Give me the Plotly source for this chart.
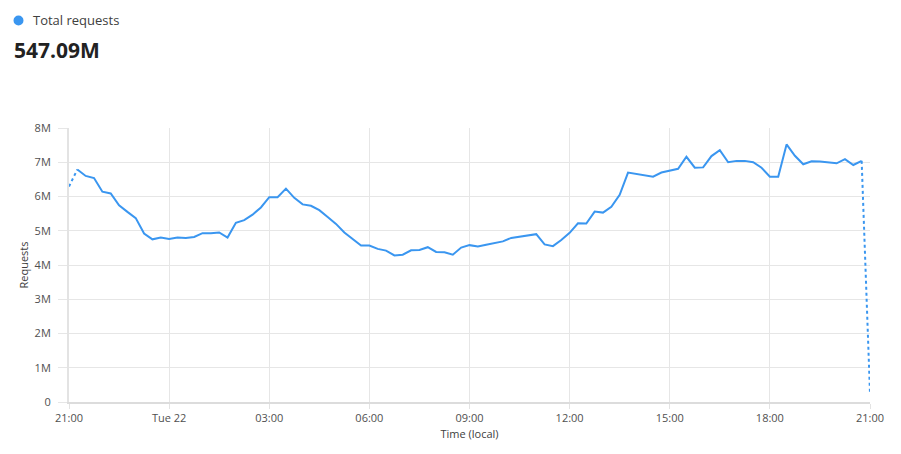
import plotly.graph_objects as go
import pandas as pd

start = "2023-08-21 21:00"
values_m = [6.29, 6.79, 6.60, 6.54, 6.14, 6.09, 5.74, 5.55, 5.37, 4.92,
            4.75, 4.80, 4.76, 4.80, 4.79, 4.82, 4.93, 4.93, 4.95, 4.80,
            5.23, 5.31, 5.47, 5.68, 5.98, 5.98, 6.23, 5.96, 5.77, 5.73,
            5.60, 5.40, 5.20, 4.95, 4.75, 4.57, 4.57, 4.47, 4.42, 4.28,
            4.30, 4.43, 4.44, 4.52, 4.38, 4.37, 4.30, 4.51, 4.58, 4.54,
            4.59, 4.63, 4.69, 4.79, 4.82, 4.86, 4.90, 4.60, 4.55, 4.73,
            4.94, 5.22, 5.21, 5.56, 5.53, 5.70, 6.05, 6.70, 6.66, 6.62,
            6.58, 6.70, 6.76, 6.81, 7.16, 6.84, 6.85, 7.18, 7.35, 7.00,
            7.04, 7.04, 7.00, 6.84, 6.58, 6.58, 7.52, 7.19, 6.94, 7.03,
            7.02, 7.00, 6.97, 7.09, 6.92, 7.04, 0.25]
times = pd.date_range(start, periods=len(values_m), freq="15min")
values = [v * 1e6 for v in values_m]

x_tick_vals = pd.date_range(start, periods=9, freq="3h")
x_tick_text = ["21:00", "Tue 22", "03:00", "06:00", "09:00", "12:00", "15:00", "18:00", "21:00"]
y_tick_vals = [i * 1e6 for i in range(9)]
y_tick_text = ["0", "1M", "2M", "3M", "4M", "5M", "6M", "7M", "8M"]

total_label = "547.09M"
series_name = "Total requests"
color = "#3a96f0"

fig = go.Figure()
fig.add_trace(go.Scatter(x=times[1:-1], y=values[1:-1], mode="lines",
                         line=dict(color=color, width=2), hoverinfo="skip"))
fig.add_trace(go.Scatter(x=times[:2], y=values[:2], mode="lines",
                         line=dict(color=color, width=2, dash="dot"), hoverinfo="skip"))
fig.add_trace(go.Scatter(x=times[-2:], y=values[-2:], mode="lines",
                         line=dict(color=color, width=2, dash="dot"), hoverinfo="skip"))

# page body has an 8px margin; figure is placed at (8, 8)
OFF = 8
W, H = 893, 446
L, T = 69 - OFF, 128 - OFF
R = W - L - 801
B = H - T - 274

font_family = "Open Sans, Noto Sans, sans-serif"
fig.update_layout(
    width=W, height=H,
    margin=dict(l=L, r=R, t=T, b=B, autoexpand=False),
    paper_bgcolor="white", plot_bgcolor="white",
    showlegend=False,
    font=dict(family=font_family, size=11, color="#505050"),
    xaxis=dict(range=[times[0], times[-1]], tickvals=x_tick_vals, ticktext=x_tick_text,
               showgrid=True, gridcolor="#e6e6e6", gridwidth=1,
               showline=True, linecolor="#dcdcdc", linewidth=2,
               ticks="outside", ticklen=5, tickcolor="#e3e3e3",
               zeroline=False, title=dict(text="Time (local)", standoff=6,
                                          font=dict(size=11, color="#404040"))),
    yaxis=dict(range=[0, 8e6], tickvals=y_tick_vals, ticktext=y_tick_text,
               showgrid=True, gridcolor="#e6e6e6", gridwidth=1,
               showline=True, linecolor="#e3e3e3", linewidth=2,
               ticks="outside", ticklen=9, tickcolor="#e6e6e6",
               ticklabelstandoff=5,
               zeroline=False, title=dict(text="Requests", standoff=4,
                                          font=dict(size=11, color="#404040"))),
)

pw, ph = W - L - R, H - T - B
def px(xp):
    return (xp - OFF - L) / pw
def py(yp):
    return (H - B - (yp - OFF)) / ph

fig.add_shape(type="circle", xref="paper", yref="paper",
              xsizemode="pixel", ysizemode="pixel",
              xanchor=px(18.5), yanchor=py(20.5),
              x0=-5, x1=5, y0=-5, y1=5,
              fillcolor=color, line=dict(width=0))
fig.add_annotation(text=series_name, x=px(31), y=py(20.5), xref="paper", yref="paper",
                   showarrow=False, font=dict(size=13, color="#404040"), xanchor="left", yanchor="middle")
fig.add_annotation(text="<b>" + total_label + "</b>", x=px(12), y=py(50), xref="paper", yref="paper",
                   showarrow=False, font=dict(size=21, color="#222222"), xanchor="left", yanchor="middle")

fig.write_html("out.html")
